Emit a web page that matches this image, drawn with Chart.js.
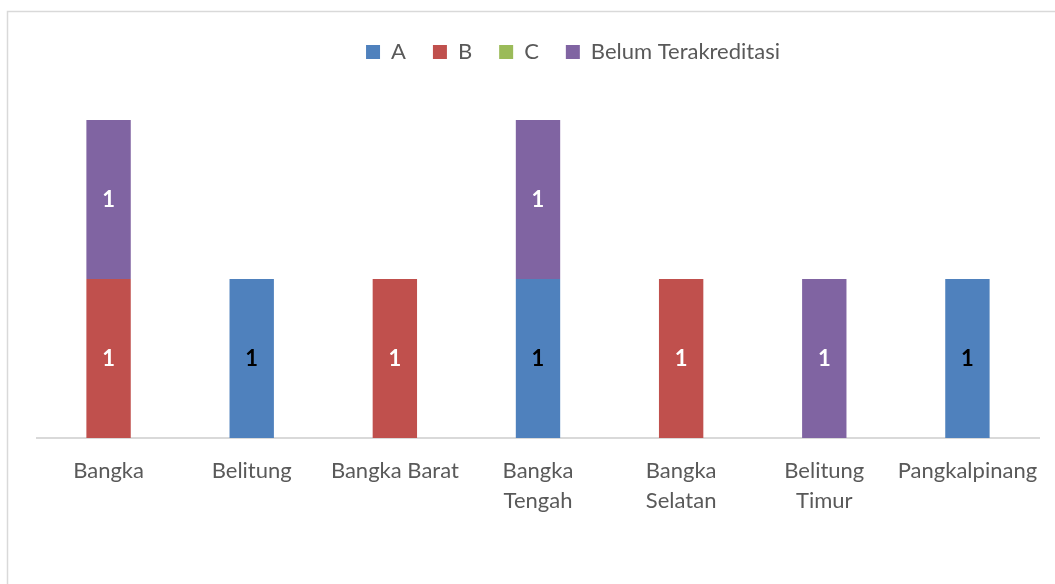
<!DOCTYPE html>
<html>
<head>
<meta charset="utf-8">
<script src="https://cdn.jsdelivr.net/npm/chart.js@4"></script>
<style>
    html, body { margin: 0; padding: 0; background: #ffffff; }
    #wrap { width: 1055px; height: 584px; }
</style>
</head>
<body>
<div id="wrap"><canvas id="myChart"></canvas></div>
<script>
const categories = [
    "Bangka",
    "Belitung",
    "Bangka Barat",
    ["Bangka", "Tengah"],
    ["Bangka", "Selatan"],
    ["Belitung", "Timur"],
    "Pangkalpinang"
];

const seriesA = [0, 1, 0, 1, 0, 0, 1];
const seriesB = [1, 0, 1, 0, 1, 0, 0];
const seriesC = [0, 0, 0, 0, 0, 0, 0];
const seriesBelum = [1, 0, 0, 1, 0, 1, 0];

const textColor = "#595959";
const lineColor = "#D9D9D9";
const fontFamily = "Lato, 'Open Sans', sans-serif";

// border round the whole chart, like the office frame
const framePlugin = {
    id: "frame",
    beforeDraw(chart) {
        const ctx = chart.ctx;
        ctx.save();
        ctx.strokeStyle = lineColor;
        ctx.lineWidth = 1.5;
        ctx.strokeRect(7.5, 11.5, chart.width + 20, chart.height + 20);
        ctx.restore();
    }
};

// legend sits a bit right of centre and keeps the plot top lower
const legendPlugin = {
    id: "legendShift",
    afterInit(chart) {
        const lg = chart.legend;
        const fit = lg.fit.bind(lg);
        lg.fit = function () {
            fit();
            this.height = 106;
        };
    },
    afterLayout(chart) {
        chart.legend.left += 35;
        chart.legend.right += 35;
    }
};

// value labels inside the bars
const valuePlugin = {
    id: "values",
    afterDatasetsDraw(chart) {
        const ctx = chart.ctx;
        ctx.save();
        ctx.font = "bold 22px " + fontFamily;
        ctx.textAlign = "center";
        ctx.textBaseline = "middle";
        chart.data.datasets.forEach((ds, i) => {
            const meta = chart.getDatasetMeta(i);
            meta.data.forEach((bar, j) => {
                const v = ds.data[j];
                if (!v) return;
                ctx.fillStyle = ds.labelColor;
                ctx.fillText(String(v), bar.x, (bar.y + bar.base) / 2);
            });
        });
        ctx.restore();
    }
};

const chart = new Chart(document.getElementById("myChart"), {
    type: "bar",
    data: {
        labels: categories,
        datasets: [
            { label: "A", data: seriesA, backgroundColor: "#4F81BD", labelColor: "#000000" },
            { label: "B", data: seriesB, backgroundColor: "#C0504D", labelColor: "#ffffff" },
            { label: "C", data: seriesC, backgroundColor: "#9BBB59", labelColor: "#000000" },
            { label: "Belum Terakreditasi", data: seriesBelum, backgroundColor: "#8064A2", labelColor: "#ffffff" }
        ]
    },
    options: {
        responsive: true,
        maintainAspectRatio: false,
        animation: false,
        datasets: {
            bar: {
                barPercentage: 0.31,
                categoryPercentage: 1
            }
        },
        layout: {
            padding: { top: 14, left: 37, right: 16, bottom: 0 }
        },
        plugins: {
            legend: {
                display: true,
                position: "top",
                labels: {
                    boxWidth: 14,
                    boxHeight: 14,
                    padding: 27,
                    color: textColor,
                    font: { family: fontFamily, size: 22 }
                }
            },
            tooltip: { enabled: false }
        },
        scales: {
            x: {
                stacked: true,
                grid: { display: false },
                border: { display: true, color: lineColor, width: 2 },
                ticks: {
                    color: textColor,
                    padding: 10,
                    maxRotation: 0,
                    autoSkip: false,
                    font: { family: fontFamily, size: 22, lineHeight: 1.36 }
                },
                afterFit(scale) {
                    scale.height = 146;
                }
            },
            y: {
                stacked: true,
                display: false,
                min: 0,
                max: 2
            }
        }
    },
    plugins: [framePlugin, legendPlugin, valuePlugin]
});
</script>
</body>
</html>
